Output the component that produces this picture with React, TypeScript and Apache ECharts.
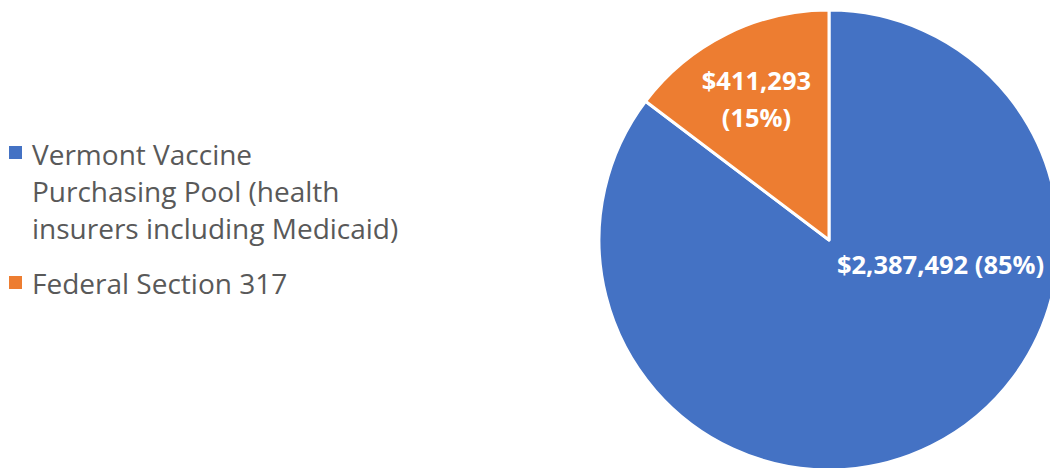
import React, { useEffect, useRef } from "react";
import * as echarts from "echarts";

const categories = [
  "Vermont Vaccine Purchasing Pool (health insurers including Medicaid)",
  "Federal Section 317",
];
const legendLabels = [
  "Vermont Vaccine\nPurchasing Pool (health\ninsurers including Medicaid)",
  "Federal Section 317",
];
const values = [2387492, 411293];
const colors = ["#4472C4", "#ED7D31"];

// legend icons: a 13px square inside a 13x111 box (the invisible corner points fix the box)
const iconTop = "path://M0,0L0.01,0.01M0,11H13V24H0ZM12.99,110.99L13,111";
const iconMid = "path://M0,0L0.01,0.01M0,49H13V62H0ZM12.99,110.99L13,111";

export default function App() {
  const ref = useRef<HTMLDivElement>(null);
  useEffect(() => {
    if (!ref.current) return;
    const chart = echarts.init(ref.current, null, { renderer: "svg" });
    const fmt = (v: number) => "$" + v.toLocaleString("en-US");
    chart.setOption({
      animation: false,
      color: colors,
      legend: {
        orient: "vertical",
        left: 4,
        top: 130,
        itemWidth: 13,
        itemHeight: 111,
        itemGap: -19,
        formatter: (name: string) => legendLabels[categories.indexOf(name)],
        itemStyle: { borderWidth: 0 },
        textStyle: {
          fontFamily: "Open Sans",
          fontSize: 28,
          lineHeight: 37,
          color: "#595959",
          padding: [0, 0, 0, 5],
        },
        data: [
          { name: categories[0], icon: iconTop },
          { name: categories[1], icon: iconMid },
        ],
      },
      series: [
        {
          type: "pie",
          center: [829, 240],
          radius: 230,
          startAngle: 90,
          clockwise: true,
          itemStyle: { borderColor: "#ffffff", borderWidth: 3 },
          label: {
            show: true,
            position: "inside",
            color: "#ffffff",
            fontFamily: "Open Sans",
            fontWeight: "bold",
            fontSize: 25.5,
            lineHeight: 37,
          },
          labelLine: { show: false },
          labelLayout: (p: any) =>
            p.dataIndex === 0 ? { dx: 59, dy: -82 } : { dx: -20, dy: -36 },
          data: [
            {
              name: categories[0],
              value: values[0],
              label: {
                formatter: (p: any) =>
                  fmt(p.value) + " (" + Math.round(p.percent) + "%)",
              },
            },
            {
              name: categories[1],
              value: values[1],
              label: {
                formatter: (p: any) =>
                  fmt(p.value) + "\n(" + Math.round(p.percent) + "%)",
              },
            },
          ],
        },
      ],
    });
    return () => chart.dispose();
  }, []);
  return (
    <div
      ref={ref}
      style={{ position: "absolute", left: 0, top: 0, width: 1050, height: 468 }}
    />
  );
}
